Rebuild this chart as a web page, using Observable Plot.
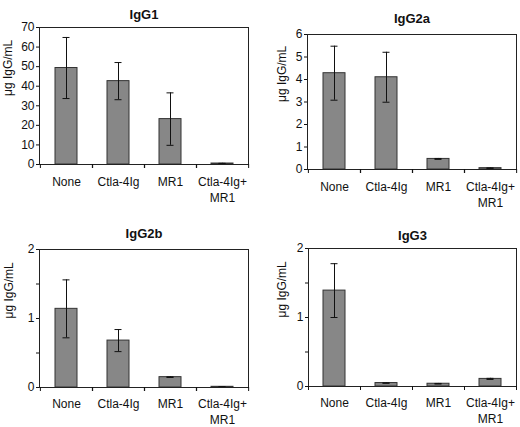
<!DOCTYPE html>
<html>
<head>
<meta charset="utf-8">
<script src="https://cdn.jsdelivr.net/npm/d3@7"></script>
<script src="https://cdn.jsdelivr.net/npm/@observablehq/plot@0.6"></script>
<style>
  body { margin: 0; background: #fff; }
  #chart { position: relative; width: 520px; height: 427px; font-family: "Liberation Sans", Arial, sans-serif; }
  .panel { position: absolute; }
</style>
</head>
<body>
<div id="chart">
  <div class="panel" id="p1" style="left:0;top:0"></div>
  <div class="panel" id="p2" style="left:260px;top:0"></div>
  <div class="panel" id="p3" style="left:0;top:215px"></div>
  <div class="panel" id="p4" style="left:260px;top:215px"></div>
</div>
<script>
var cats = ["None", "Ctla-4Ig", "MR1", "Ctla-4Ig+\nMR1"];
var yLabel = "\u03bcg IgG/mL";

var igg1Mean = [49.3, 42.6, 23.2, 0.5];
var igg1Err = [15.6, 9.5, 13.4, 0.1];
var igg1Ticks = [0, 10, 20, 30, 40, 50, 60, 70];

var igg2aMean = [4.28, 4.1, 0.47, 0.06];
var igg2aErr = [1.2, 1.11, 0.02, 0.01];
var igg2aTicks = [0, 1, 2, 3, 4, 5, 6];

var igg2bMean = [1.14, 0.68, 0.15, 0.01];
var igg2bErr = [0.42, 0.16, 0.005, 0.002];
var igg2bTicks = [0, 0.5, 1, 1.5, 2];

var igg3Mean = [1.39, 0.05, 0.04, 0.11];
var igg3Err = [0.39, 0.004, 0.004, 0.008];
var igg3Ticks = [0, 0.5, 1, 1.5, 2];

function panel(o) {
  var rows = cats.map(function (c, i) {
    return { cat: c, mean: o.mean[i], lo: o.mean[i] - o.err[i], hi: o.mean[i] + o.err[i] };
  });
  // half a category step, to put the x ticks on the category boundaries
  var half = (o.width - o.ml - o.mr) / cats.length / 2;
  return Plot.plot({
    width: o.width,
    height: o.height,
    marginLeft: o.ml,
    marginRight: o.mr,
    marginTop: o.mt,
    marginBottom: o.mb,
    style: { fontFamily: "Liberation Sans, Arial, sans-serif", color: "#111" },
    x: { domain: cats, paddingInner: 0.58, paddingOuter: 0.29, label: null },
    y: { domain: [0, o.ticks[o.ticks.length - 1]], label: null },
    marks: [
      Plot.barY(rows, { x: "cat", y: "mean", fill: "#878787", stroke: "#333", strokeWidth: 1 }),
      Plot.ruleX(rows, { x: "cat", y1: "lo", y2: "hi", stroke: "#111", strokeWidth: 1 }),
      Plot.tickY(rows, { x: "cat", y: "hi", stroke: "#111", inset: 7.5 }),
      Plot.tickY(rows, { x: "cat", y: "lo", stroke: "#111", inset: 7.5 }),
      Plot.frame({ stroke: "#222" }),
      Plot.axisY({ ticks: o.ticks, tickSize: 3, tickPadding: 2, fontSize: 12,
        tickFormat: function (d) { return Number.isInteger(d) ? String(d) : ""; }, label: null }),
      Plot.axisX({ tickSize: 4, dx: -half, tickFormat: function () { return ""; }, label: null }),
      Plot.axisX({ tickSize: 4, dx: half, tickFormat: function () { return ""; }, label: null }),
      Plot.axisX({ tickSize: 0, tickPadding: o.pad, fontSize: 12, lineHeight: 1.35, label: null }),
      Plot.text([o.title], { frameAnchor: "top", dy: o.titleDy, fontWeight: "bold", fontSize: 13, fill: "#111" }),
      Plot.text([yLabel], { frameAnchor: "left", dx: o.labelDx, rotate: -90, fontSize: 12, fill: "#111" })
    ]
  });
}

document.getElementById("p1").append(panel({ title: "IgG1", mean: igg1Mean, err: igg1Err, ticks: igg1Ticks,
  width: 260, height: 215, ml: 39, mr: 12, mt: 27, mb: 51, pad: 10, titleDy: -18, labelDx: -31 }));
document.getElementById("p2").append(panel({ title: "IgG2a", mean: igg2aMean, err: igg2aErr, ticks: igg2aTicks,
  width: 260, height: 215, ml: 47, mr: 4, mt: 34, mb: 46, pad: 10, titleDy: -21, labelDx: -25 }));
document.getElementById("p3").append(panel({ title: "IgG2b", mean: igg2bMean, err: igg2bErr, ticks: igg2bTicks,
  width: 260, height: 212, ml: 39, mr: 12, mt: 34, mb: 40, pad: 9, titleDy: -21, labelDx: -30 }));
document.getElementById("p4").append(panel({ title: "IgG3", mean: igg3Mean, err: igg3Err, ticks: igg3Ticks,
  width: 260, height: 212, ml: 48, mr: 4, mt: 33, mb: 41, pad: 9, titleDy: -18, labelDx: -26 }));
</script>
</body>
</html>
